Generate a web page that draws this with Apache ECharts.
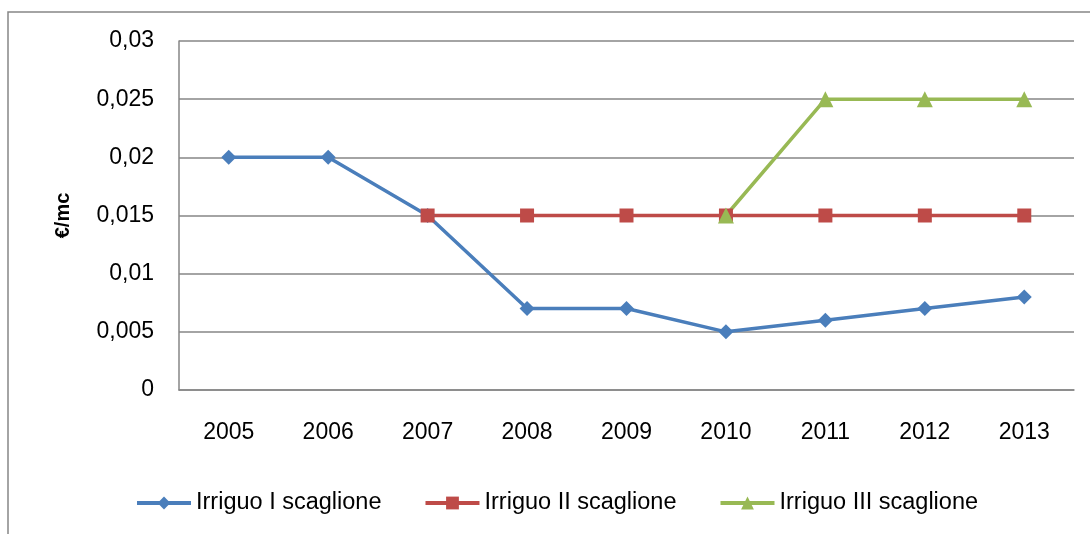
<!DOCTYPE html>
<html>
<head>
<meta charset="utf-8">
<script src="https://cdn.jsdelivr.net/npm/echarts@6/dist/echarts.min.js"></script>
<style>
  html, body { margin: 0; padding: 0; background: #fff; }
  #chart { width: 1090px; height: 534px; }
</style>
</head>
<body>
<div id="chart"></div>
<script>
// dati
const years = ["2005", "2006", "2007", "2008", "2009", "2010", "2011", "2012", "2013"];
const scaglione1 = [0.02, 0.02, 0.015, 0.007, 0.007, 0.005, 0.006, 0.007, 0.008];
const scaglione2 = [null, null, 0.015, 0.015, 0.015, 0.015, 0.015, 0.015, 0.015];
const scaglione3 = [null, null, null, null, null, 0.015, 0.025, 0.025, 0.025];

const fontFamily = "Liberation Sans, Arial, sans-serif";
const gray = "#868686";

const chart = echarts.init(document.getElementById("chart"));
const option = {
  animation: false,
  textStyle: { fontFamily: fontFamily },
  graphic: [
    {
      type: "rect",
      shape: { x: 8, y: 12, width: 1200, height: 700 },
      style: { fill: "none", stroke: gray, lineWidth: 1.5 },
      silent: true,
    },
  ],
  grid: { left: 179, top: 41, right: 16, bottom: 144 },
  legend: {
    left: 130,
    top: 486,
    itemGap: 42,
    itemWidth: 54,
    itemHeight: 16,
    itemStyle: {},
    lineStyle: { width: 4 },
    textStyle: { fontSize: 23.5, color: "#000", fontFamily: fontFamily },
    data: ["Irriguo I scaglione", "Irriguo II scaglione", "Irriguo III scaglione"],
  },
  xAxis: {
    type: "category",
    data: years,
    boundaryGap: true,
    axisLine: { lineStyle: { color: gray, width: 1.5 } },
    axisTick: { show: false },
    axisLabel: { color: "#000", fontSize: 23, margin: 31 },
  },
  yAxis: {
    type: "value",
    min: 0,
    max: 0.03,
    interval: 0.005,
    name: "€/mc",
    nameLocation: "middle",
    nameGap: 106,
    nameTextStyle: { fontSize: 20, fontWeight: "bold", color: "#000" },
    axisLine: { show: true, lineStyle: { color: gray, width: 1.5 } },
    axisTick: { show: false },
    splitLine: { lineStyle: { color: gray, width: 1.5 } },
    axisLabel: {
      color: "#000",
      fontSize: 23,
      margin: 25,
      formatter: (v) => String(+v.toFixed(3)).replace(".", ","),
    },
  },
  series: [
    {
      name: "Irriguo I scaglione",
      type: "line",
      data: scaglione1,
      symbol: "diamond",
      symbolSize: 15,
      lineStyle: { width: 3.5, color: "#4A7EBB" },
      itemStyle: { color: "#4A7EBB" },
    },
    {
      name: "Irriguo II scaglione",
      type: "line",
      data: scaglione2,
      symbol: "rect",
      symbolSize: 14,
      lineStyle: { width: 3.5, color: "#BE4B48" },
      itemStyle: { color: "#BE4B48" },
    },
    {
      name: "Irriguo III scaglione",
      type: "line",
      data: scaglione3,
      symbol: "triangle",
      symbolSize: 16,
      lineStyle: { width: 3.5, color: "#98B954" },
      itemStyle: { color: "#98B954" },
    },
  ],
};
chart.setOption(option);
</script>
</body>
</html>
